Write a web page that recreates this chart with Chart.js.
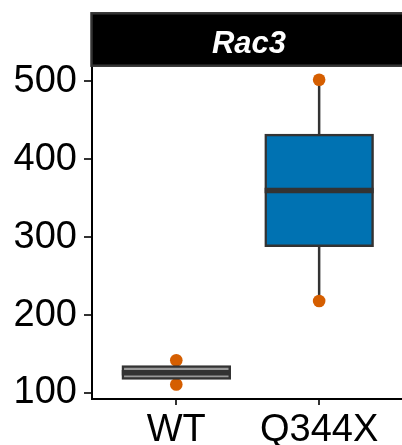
<!DOCTYPE html>
<html><head><meta charset="utf-8">
<script src="https://cdn.jsdelivr.net/npm/chart.js@4"></script>
<style>html,body{margin:0;padding:0;background:#fff}canvas{display:block}</style>
</head><body>
<canvas id="c" width="402" height="445"></canvas>
<script>
const categories = ['WT', 'Q344X'];
const boxLow = [118.5, 289];
const boxMedian = [126, 360];
const boxHigh = [134, 431];
const whiskerLow = [111, 218];
const whiskerHigh = [142, 502];
const pointsWT = [111, 126, 142];
const pointsQ344X = [218, 360, 502];
const yTicks = [100, 200, 300, 400, 500];
const panelTitle = 'Rac3';
const boxColors = ['#999999', '#0072B2'];
const pointColor = '#D55E00';
const FONT = "'Liberation Sans', Arial, sans-serif";

const allPoints = [pointsWT, pointsQ344X];
const pointData = [];
allPoints.forEach((arr, i) => arr.forEach(v => pointData.push({x: i + 1, y: v})));

const medianPlugin = {
  id: 'medianPlugin',
  afterDatasetsDraw(chart) {
    const ctx = chart.ctx;
    const meta = chart.getDatasetMeta(1);
    const ys = chart.scales.y;
    ctx.save();
    ctx.strokeStyle = '#333333';
    ctx.lineWidth = 5.5;
    ctx.lineCap = 'butt';
    meta.data.forEach((el, i) => {
      const y = ys.getPixelForValue(boxMedian[i]);
      const hw = el.width / 2 + 1;
      ctx.beginPath();
      ctx.moveTo(el.x - hw, y);
      ctx.lineTo(el.x + hw, y);
      ctx.stroke();
    });
    ctx.restore();
  }
};

const stripPlugin = {
  id: 'stripPlugin',
  afterDraw(chart) {
    const ctx = chart.ctx;
    const a = chart.chartArea;
    ctx.save();
    ctx.fillStyle = '#000000';
    ctx.strokeStyle = '#333333';
    ctx.lineWidth = 2.5;
    const x0 = a.left - 0.5, y0 = 13.3, x1 = chart.width + 3, y1 = 65.7;
    ctx.fillRect(x0, y0, x1 - x0, y1 - y0);
    ctx.strokeRect(x0, y0, x1 - x0, y1 - y0);
    ctx.fillStyle = '#ffffff';
    ctx.font = "italic bold 31px " + FONT;
    ctx.textAlign = 'center';
    ctx.textBaseline = 'alphabetic';
    ctx.fillText(panelTitle, (a.left + a.right) / 2 + 2, 53.3);
    ctx.restore();
  }
};

new Chart(document.getElementById('c'), {
  type: 'bar',
  data: {
    datasets: [
      {
        label: 'whisker',
        data: categories.map((c, i) => ({x: i + 1, y: [whiskerLow[i], whiskerHigh[i]]})),
        backgroundColor: '#333333',
        borderWidth: 0,
        barThickness: 2.5,
        grouped: false,
        inflateAmount: 0,
        order: 3
      },
      {
        label: 'box',
        data: categories.map((c, i) => ({x: i + 1, y: [boxLow[i], boxHigh[i]]})),
        backgroundColor: boxColors,
        borderColor: '#333333',
        borderWidth: 2.5,
        borderSkipped: false,
        barThickness: 107,
        inflateAmount: 1.25,
        grouped: false,
        order: 1
      },
      {
        type: 'line',
        label: 'points',
        data: pointData,
        showLine: false,
        pointRadius: 6.3,
        pointBackgroundColor: pointColor,
        pointBorderWidth: 0,
        order: 2
      }
    ]
  },
  options: {
    responsive: false,
    devicePixelRatio: 1,
    animation: false,
    layout: {autoPadding: false, padding: {top: 67, left: 0, right: 0, bottom: 0}},
    plugins: {legend: {display: false}, tooltip: {enabled: false}},
    scales: {
      x: {
        type: 'linear',
        min: 0.41,
        max: 2.58,
        offset: false,
        afterBuildTicks: (s) => { s.ticks = categories.map((c, i) => ({value: i + 1})); },
        afterFit: (s) => { s.height = 46; s.paddingLeft = 0; s.paddingRight = 0; },
        ticks: {
          callback: (v, i) => categories[i],
          font: {family: FONT, size: 38},
          color: '#000000',
          padding: 3,
          maxRotation: 0,
          autoSkip: false
        },
        grid: {offset: false, drawOnChartArea: false, drawTicks: true, tickLength: 6, color: '#333333', lineWidth: 2},
        border: {display: true, color: '#000000', width: 2}
      },
      y: {
        type: 'linear',
        min: 92.3,
        max: 518.4,
        afterBuildTicks: (s) => { s.ticks = yTicks.map(v => ({value: v})); },
        afterFit: (s) => { s.width = 92; s.paddingTop = 0; s.paddingBottom = 0; },
        ticks: {
          callback: (v) => String(v),
          font: {family: FONT, size: 38},
          color: '#000000',
          padding: 7
        },
        grid: {drawOnChartArea: false, drawTicks: true, tickLength: 8, color: '#333333', lineWidth: 2},
        border: {display: true, color: '#000000', width: 2}
      }
    }
  },
  plugins: [medianPlugin, stripPlugin]
});
</script>
</body></html>
